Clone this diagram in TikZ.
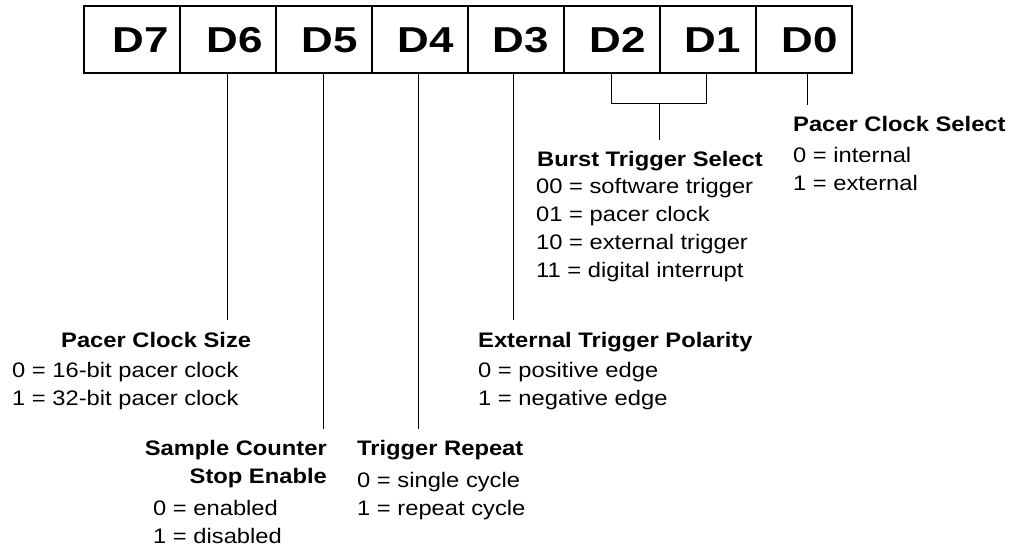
\documentclass[tikz,border=0pt]{standalone}
\usepackage{fontspec}
\setmainfont{Liberation Sans}[FakeStretch=1.13]
\newfontfamily\bitfont{Liberation Sans}[FakeStretch=1.22]
\begin{document}
\begin{tikzpicture}[x=1pt,y=-1pt,
  cell/.style={draw,line width=1.3pt,minimum width=96pt,minimum height=67pt,inner sep=0pt,outer sep=0pt},
  bitlbl/.style={anchor=base,inner sep=0pt,font=\bitfont\fontsize{36}{40}\selectfont\bfseries},
  ttl/.style={anchor=base west,inner sep=0pt,font=\fontsize{21}{24}\selectfont\bfseries},
  ttlr/.style={anchor=base east,inner sep=0pt,font=\fontsize{21}{24}\selectfont\bfseries},
  txt/.style={anchor=base west,inner sep=0pt,font=\fontsize{21}{24}\selectfont},
  conn/.style={line width=1pt}]
\useasboundingbox (0,0) rectangle (1011,550);
% register cells
\node[cell] (c7) at (132,39.5) {};
\node[cell] (c6) at (228,39.5) {};
\node[cell] (c5) at (324,39.5) {};
\node[cell] (c4) at (420,39.5) {};
\node[cell] (c3) at (516,39.5) {};
\node[cell] (c2) at (612,39.5) {};
\node[cell] (c1) at (708,39.5) {};
\node[cell] (c0) at (804,39.5) {};
\draw[line width=2pt] (c7.north west) rectangle (c0.south east);
\node[bitlbl] (t7) at (141,52.7) {D7};
\node[bitlbl] (t6) at (235,52.7) {D6};
\node[bitlbl] (t5) at (330,52.7) {D5};
\node[bitlbl] (t4) at (426,52.7) {D4};
\node[bitlbl] (t3) at (521,52.7) {D3};
\node[bitlbl] (t2) at (618,52.7) {D2};
\node[bitlbl] (t1) at (713,52.7) {D1};
\node[bitlbl] (t0) at (810,52.7) {D0};
% Pacer Clock Select
\node[ttl] (pcs) at (793,131) {Pacer Clock Select};
\node[txt] (pcs0) at (793,162) {0 = internal};
\node[txt] (pcs1) at (793,190) {1 = external};
% Burst Trigger Select
\node[ttl] (bts) at (537,166) {Burst Trigger Select};
\node[txt] (bts0) at (536,193) {00 = software trigger};
\node[txt] (bts1) at (536,221) {01 = pacer clock};
\node[txt] (bts2) at (536,249) {10 = external trigger};
\node[txt] (bts3) at (536,277) {11 = digital interrupt};
% External Trigger Polarity
\node[ttl] (etp) at (478,347) {External Trigger Polarity};
\node[txt] (etp0) at (478,377) {0 = positive edge};
\node[txt] (etp1) at (478,405) {1 = negative edge};
% Pacer Clock Size
\node[ttl] (pcz) at (61,347) {Pacer Clock Size};
\node[txt] (pcz0) at (12,377) {0 = 16-bit pacer clock};
\node[txt] (pcz1) at (12,405) {1 = 32-bit pacer clock};
% Sample Counter Stop Enable
\node[ttlr] (scs) at (327,455) {Sample Counter};
\node[ttlr] (scs2) at (327,483) {Stop Enable};
\node[txt] (scs0) at (153,515) {0 = enabled};
\node[txt] (scs1) at (153,543) {1 = disabled};
% Trigger Repeat
\node[ttl] (trr) at (357,455) {Trigger Repeat};
\node[txt] (trr0) at (357,487) {0 = single cycle};
\node[txt] (trr1) at (357,515) {1 = repeat cycle};
% connector ends
\coordinate (e6) at (227,320);
\coordinate (e5) at (323,429);
\coordinate (e4) at (418,429);
\coordinate (e3) at (513,320);
\coordinate (b2) at (611,103);
\coordinate (b1) at (706,103);
\coordinate (bm) at (659,103);
\coordinate (be) at (659,140);
\coordinate (e0) at (807,105);
% connectors
\draw[conn] (c6.south -| e6) -- (e6);
\draw[conn] (c5.south -| e5) -- (e5);
\draw[conn] (c4.south -| e4) -- (e4);
\draw[conn] (c3.south -| e3) -- (e3);
\draw[conn] (c2.south -| b2) -- (b2) -- (b1) -- (c1.south -| b1);
\draw[conn] (bm) -- (be);
\draw[conn] (c0.south -| e0) -- (e0);
\end{tikzpicture}
\end{document}
